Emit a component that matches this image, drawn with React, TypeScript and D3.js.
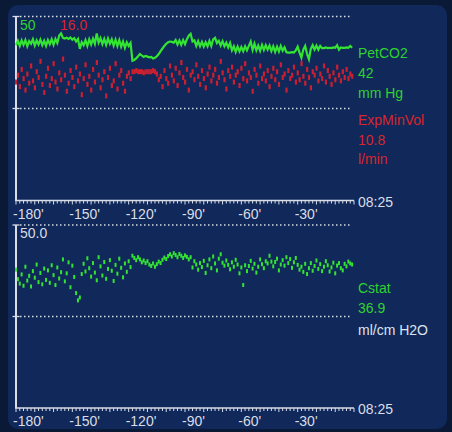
import React, { useEffect, useRef } from 'react';
import * as d3 from 'd3';

// one sample per minute, from -180' up to -1'
const petCO2 = [
  42.2, 43.4, 42.0, 43.5, 42.3, 43.6, 41.9, 43.3, 42.6, 43.8,
  42.1, 43.5, 42.4, 43.7, 42.2, 43.4, 42.0, 43.6, 42.5, 43.8,
  42.3, 43.9, 42.8, 44.8, 45.4, 44.2, 44.0, 44.2, 43.9, 44.3,
  43.7, 44.1, 43.2, 43.9, 41.2, 43.0, 42.2, 43.6, 42.0, 43.8,
  42.4, 44.0, 42.6, 45.4, 42.9, 44.1, 42.5, 43.9, 42.3, 44.0,
  42.6, 43.8, 42.1, 43.7, 42.0, 43.6, 41.8, 43.2, 41.5, 43.0,
  42.0, 42.8,
  38.0, 38.2, 38.6, 39.2, 39.8, 39.4, 39.0, 39.3, 39.1, 38.9, 39.0, 38.6, 38.8,
  39.2, 39.8, 40.6, 41.3, 42.0, 42.6, 43.0, 43.2, 43.1, 42.9,
  43.6, 42.4, 43.5, 42.3, 43.6, 42.5, 43.8, 44.8, 45.3, 43.2,
  43.5, 42.0, 43.3, 41.9, 43.1, 41.8, 43.0, 41.9, 43.4, 42.0,
  43.8, 44.2, 42.8, 43.4, 42.1, 43.3, 41.9, 42.9, 41.6, 42.8,
  40.8, 41.9, 40.4, 41.8, 40.5, 41.7, 40.6, 41.9, 40.8, 42.0,
  43.2, 40.9, 42.6, 40.8, 42.1, 40.7, 42.3, 40.9, 42.2, 41.0,
  42.1, 40.6, 41.9, 40.4, 41.8, 40.5, 42.0, 40.7, 41.6, 40.3,
  40.2, 40.2, 40.3, 40.2, 40.8, 41.8, 40.2, 38.8, 41.0, 42.0,
  39.8, 38.4, 41.2, 42.2, 41.0, 42.1, 41.0, 42.0, 41.4, 41.4,
  41.6, 41.4, 41.5, 41.4, 41.6, 41.5, 42.2, 41.0, 41.6, 41.5,
  41.5, 41.6, 41.5, 42.0, 41.5
];

const expMinVol = [
  10.3, 10.9, 9.9, 11.4, 10.6, 9.6, 11.0, 10.2, 11.7, 10.4,
  9.8, 11.2, 10.7, 12.1, 10.1, 9.4, 10.8, 11.5, 10.0, 10.6,
  11.9, 10.3, 9.7, 11.1, 10.5, 12.3, 10.9, 9.5, 10.2, 11.3,
  10.7, 9.9, 11.6, 10.4, 11.0, 9.2, 10.6, 11.8, 10.1, 10.8,
  9.6, 11.4, 10.3, 12.0, 10.9, 9.8, 10.5, 11.2, 9.1, 10.7,
  11.5, 10.0, 10.4, 11.9, 9.7, 10.9, 11.3, 10.2, 9.5, 10.8,
  11.1, 10.6,
  11.2, 11.2, 11.3, 11.2, 11.2, 11.2, 11.1, 11.2, 11.2, 11.2, 11.2, 11.3, 11.2,
  11.0, 10.5, 10.8, 9.9, 11.3, 10.6, 10.2, 11.7, 10.9, 10.4,
  11.5, 10.0, 11.1, 12.0, 10.7, 10.3, 11.4, 9.6, 10.9, 11.2,
  10.5, 11.8, 10.8, 10.1, 11.3, 10.6, 9.8, 11.0, 11.6, 10.4,
  10.9, 11.4, 10.2, 10.7, 12.1, 11.1, 10.5, 9.7, 11.3, 10.8,
  11.6, 10.3, 10.9, 11.2, 10.0, 11.5, 10.6, 11.9, 10.4, 11.1,
  10.7, 9.5, 11.4, 10.9, 10.2, 11.7, 10.6, 11.0, 10.4, 11.3,
  9.9, 10.8, 11.5, 10.5, 11.2, 10.1, 11.8, 10.7, 11.0, 9.6,
  11.3, 10.6, 10.9, 11.6, 10.3, 11.1, 10.5, 11.9, 10.8, 10.2,
  11.4, 10.7, 9.8, 11.2, 10.9, 11.5, 10.4, 11.0, 10.6, 11.7,
  10.3, 11.3, 10.8, 10.1, 11.1, 10.5, 11.6, 10.9, 10.4, 11.2,
  10.7, 11.4, 10.6, 11.0, 10.8
];

const cstat = [
  37.8, 35.2, 34.0, 36.5, 33.4, 38.6, 34.8, 36.1, 33.2, 37.4,
  35.6, 39.2, 34.4, 36.9, 33.8, 38.1, 35.0, 37.6, 34.2, 39.0,
  36.3, 33.6, 38.4, 35.4, 37.1, 40.6, 34.6, 36.8, 39.8, 33.0,
  38.9, 35.8, 31.4, 29.4, 30.2, 36.6, 39.4, 37.3, 40.9, 38.2,
  35.9, 39.6, 37.0, 34.9, 41.2, 38.7, 36.2, 39.9, 35.3, 38.0,
  40.4, 37.5, 34.7, 39.1, 36.7, 40.8, 38.3, 35.7, 39.5, 37.2,
  40.1, 38.5,
  41.6, 41.0, 40.4, 41.2, 40.6, 39.8, 40.3, 39.6, 40.1, 39.2,
  38.8, 39.5, 38.6, 39.3, 40.0, 39.6, 40.5, 41.1, 40.7, 41.5,
  42.0, 41.4, 42.3, 41.8, 41.2, 42.1, 41.6, 41.0, 41.7, 41.3,
  40.6, 41.2, 38.4, 40.1, 39.2, 37.8, 39.6, 38.5, 40.2, 36.9,
  39.0, 40.6, 38.2, 41.4, 39.5, 37.6, 40.8, 42.0, 39.7, 38.9,
  40.3, 39.1, 37.9, 39.8, 38.6, 40.5, 39.2, 36.8, 38.4, 33.6,
  39.0, 37.4, 38.8, 40.2, 38.1, 39.4, 37.0, 38.6, 40.6, 39.3,
  38.2, 40.1, 39.5, 41.6, 40.0, 38.7, 39.9, 40.8, 37.6, 39.2,
  40.4, 38.9, 41.2, 39.6, 40.7, 38.3, 39.8, 41.0, 39.1, 37.8,
  38.6, 37.2, 39.4, 36.6, 38.2, 39.6, 37.5, 38.8, 40.3, 38.0,
  39.3, 37.4, 38.6, 40.1, 39.0, 37.3, 38.4, 39.7, 36.8, 38.9,
  39.6, 38.2, 37.6, 39.4, 38.7, 40.0, 39.5, 39.2
];

const tickMinutes = [-180, -150, -120, -90, -60, -30];
const topLabels = [
  { text: 'PetCO2', color: '#2fd22f' },
  { text: '42', color: '#2fd22f' },
  { text: 'mm Hg', color: '#2fd22f' },
  { text: 'ExpMinVol', color: '#d8262c' },
  { text: '10.8', color: '#d8262c' },
  { text: 'l/min', color: '#d8262c' }
];
const bottomLabels = [
  { text: 'Cstat', color: '#2fd22f' },
  { text: '36.9', color: '#2fd22f' },
  { text: 'ml/cm H2O', color: '#dfe3ec' }
];
const timeNow = '08:25';

const W = 452, H = 432;
const BG = '#10285a';
const AXIS = '#d9dde6';
const GREEN = '#33e433';
const RED = '#cc2030';

const App = () => {
  const ref = useRef<SVGSVGElement>(null);

  useEffect(() => {
    const svg = d3.select(ref.current);
    svg.selectAll('*').remove();
    svg.append('rect').attr('width', W).attr('height', H).attr('fill', '#0a1936');
    svg.append('rect').attr('x', 8).attr('y', 5).attr('width', 439).attr('height', 424)
      .attr('rx', 10).attr('fill', BG);

    const x = d3.scaleLinear().domain([-180, 0]).range([16, 354]);
    const minutes = d3.range(-180, 0);
    const font = "'Liberation Sans', Arial, sans-serif";

    const panel = (top: number, bottom: number) => {
      const g = svg.append('g');
      // dotted grid lines at full scale and half scale
      [top, (top + bottom) / 2].forEach((yy) => {
        g.append('line').attr('x1', 20).attr('x2', 352).attr('y1', yy).attr('y2', yy)
          .attr('stroke', AXIS).attr('stroke-width', 1.3).attr('stroke-dasharray', '1.5 2.5');
        g.append('line').attr('x1', 12.5).attr('x2', 19.5).attr('y1', yy).attr('y2', yy)
          .attr('stroke', AXIS).attr('stroke-width', 1.3);
      });
      g.append('line').attr('x1', 16).attr('x2', 16).attr('y1', top).attr('y2', bottom)
        .attr('stroke', AXIS).attr('stroke-width', 2);
      g.append('line').attr('x1', 15).attr('x2', 354).attr('y1', bottom).attr('y2', bottom)
        .attr('stroke', AXIS).attr('stroke-width', 1.5);
      const ticks = d3.range(-180, 1, 2);
      g.selectAll('.tk').data(ticks).join('line')
        .attr('x1', (d) => x(d)).attr('x2', (d) => x(d))
        .attr('y1', bottom).attr('y2', (d) => bottom + (d % 10 === 0 ? 4 : 3))
        .attr('stroke', AXIS).attr('stroke-width', 1);
      g.selectAll('.tl').data(tickMinutes).join('text')
        .attr('x', (d) => x(d) - 3).attr('y', bottom + 18)
        .attr('fill', AXIS).attr('font-family', font).attr('font-size', 14)
        .text((d) => `${d}'`);
      g.append('text').attr('x', 358).attr('y', bottom + 6)
        .attr('fill', AXIS).attr('font-family', font).attr('font-size', 14).text(timeNow);
      return g;
    };

    // ---- top panel: PetCO2 + ExpMinVol
    const top1 = 16.5, bot1 = 200.5;
    const g1 = panel(top1, bot1);
    const yCO2 = d3.scaleLinear().domain([0, 50]).range([bot1, top1]);
    const yMV = d3.scaleLinear().domain([0, 16]).range([bot1, top1]);

    g1.selectAll('.mv').data(expMinVol).join('rect')
      .attr('x', (d, i) => x(minutes[i]) - 1).attr('y', (d) => yMV(d) - 2.5)
      .attr('width', 2.2).attr('height', 5).attr('fill', RED);

    const line = d3.line<number>()
      .x((d, i) => x(minutes[i]))
      .y((d) => yCO2(d));
    g1.append('path').datum(petCO2).attr('d', line)
      .attr('fill', 'none').attr('stroke', GREEN).attr('stroke-width', 2.2);

    g1.append('text').attr('x', 20).attr('y', 30).attr('fill', '#2fd22f')
      .attr('font-family', font).attr('font-size', 14).text('50');
    g1.append('text').attr('x', 60).attr('y', 30).attr('fill', '#d8262c')
      .attr('font-family', font).attr('font-size', 14).text('16.0');
    const topY = [58, 78, 98, 125, 145, 164];
    g1.selectAll('.lab').data(topLabels).join('text')
      .attr('x', 358).attr('y', (d, i) => topY[i]).attr('fill', (d) => d.color)
      .attr('font-family', font).attr('font-size', 14).text((d) => d.text);

    // ---- bottom panel: Cstat
    const top2 = 225, bot2 = 408;
    const g2 = panel(top2, bot2);
    const yC = d3.scaleLinear().domain([0, 50]).range([bot2, top2]);
    g2.selectAll('.cs').data(cstat).join('rect')
      .attr('x', (d, i) => x(minutes[i]) - 1).attr('y', (d) => yC(d) - 2)
      .attr('width', 2).attr('height', 4).attr('fill', GREEN);
    g2.append('text').attr('x', 20).attr('y', 238).attr('fill', AXIS)
      .attr('font-family', font).attr('font-size', 14).text('50.0');
    const botY = [293, 313, 335];
    g2.selectAll('.lab').data(bottomLabels).join('text')
      .attr('x', 358).attr('y', (d, i) => botY[i]).attr('fill', (d) => d.color)
      .attr('font-family', font).attr('font-size', 14).text((d) => d.text);
  }, []);

  return (
    <svg ref={ref} width={W} height={H}
      style={{ position: 'absolute', left: 0, top: 0, display: 'block' }} />
  );
};

export default App;
